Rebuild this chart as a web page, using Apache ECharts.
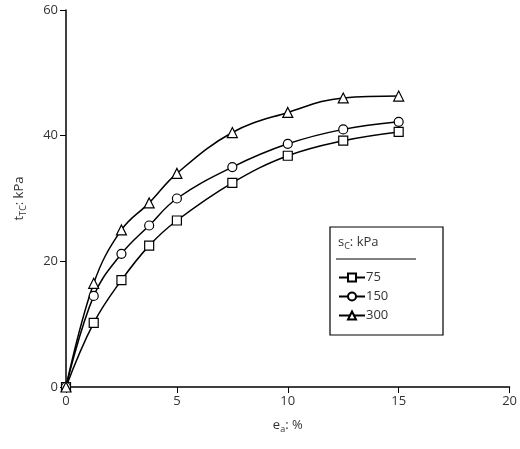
<!DOCTYPE html>
<html><head><meta charset="utf-8">
<script src="https://cdn.jsdelivr.net/npm/echarts@6/dist/echarts.min.js"></script>
<style>html,body{margin:0;padding:0;background:#fff}#c{width:520px;height:449px}</style>
</head><body><div id="c"></div>
<script>
const strain = [0, 1.25, 2.5, 3.75, 5, 7.5, 10, 12.5, 15];
const s75 = [0, 10.2, 17, 22.5, 26.5, 32.5, 36.8, 39.2, 40.6];
const s150 = [0, 14.5, 21.2, 25.7, 30, 35, 38.7, 41, 42.2];
const s300 = [0, 16.5, 25, 29.3, 34, 40.5, 43.7, 46, 46.3];
const names = ['75', '150', '300'];
const symbols = ['rect', 'circle', 'triangle'];
const F = '"Open Sans", sans-serif';
const chart = echarts.init(document.getElementById('c'));
const mk = (d, i) => ({
  name: names[i], type: 'line', smooth: 0.4, data: strain.map((x, j) => [x, d[j]]),
  symbol: symbols[i], symbolSize: i === 2 ? 10 : 9,
  lineStyle: {color: '#000', width: 1.5},
  itemStyle: {color: '#fff', borderColor: '#000', borderWidth: 1.2}
});
chart.setOption({
  animation: false,
  grid: {left: 66, right: 9, top: 10, bottom: 62},
  xAxis: {type: 'value', min: 0, max: 20, interval: 5,
    axisLine: {lineStyle: {color: '#000', width: 1.5}},
    axisTick: {lineStyle: {color: '#000'}, length: 6},
    splitLine: {show: false},
    axisLabel: {color: '#333', fontFamily: F, fontSize: 13},
    name: '{m|e}{s|a}{m|: %}', nameLocation: 'middle', nameGap: 30,
    nameTextStyle: {rich: {m: {fontFamily: F, fontSize: 13, color: '#333'}, s: {fontFamily: F, fontSize: 9, color: '#333', verticalAlign: 'bottom', padding: [8, 0, 0, 0]}}}},
  yAxis: {type: 'value', min: 0, max: 60, interval: 20,
    axisLine: {show: true, lineStyle: {color: '#000', width: 1.5}},
    axisTick: {show: true, lineStyle: {color: '#000'}, length: 6},
    splitLine: {show: false},
    axisLabel: {color: '#333', fontFamily: F, fontSize: 13},
    name: '{m|t}{s|TC}{m|: kPa}', nameLocation: 'middle', nameGap: 38,
    nameTextStyle: {rich: {m: {fontFamily: F, fontSize: 13, color: '#333'}, s: {fontFamily: F, fontSize: 9, color: '#333', padding: [8, 0, 0, 0]}}}},
  legend: {orient: 'vertical', left: 333, top: 266, itemGap: 6, itemWidth: 26, itemHeight: 10,
    textStyle: {fontFamily: F, fontSize: 13, color: '#333', padding: [0, 0, 0, -4]}},
  graphic: [
    {type: 'rect', shape: {x: 330, y: 227, width: 113, height: 108}, style: {fill: 'none', stroke: '#000', lineWidth: 1.2}, z: -1},
    {type: 'text', left: 338, top: 236, style: {text: '{m|s}{s|C}{m|: kPa}', rich: {m: {fontFamily: F, fontSize: 13, fill: '#333'}, s: {fontFamily: F, fontSize: 9, fill: '#333', padding: [8, 0, 0, 0]}}}},
    {type: 'line', shape: {x1: 336, y1: 259, x2: 416, y2: 259}, style: {stroke: '#000', lineWidth: 1.2}}
  ],
  series: [mk(s75, 0), mk(s150, 1), mk(s300, 2)]
});
</script></body></html>
